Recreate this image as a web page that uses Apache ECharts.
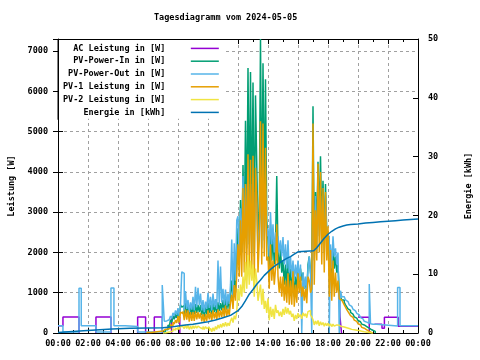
<!DOCTYPE html>
<html><head><meta charset="utf-8">
<script src="https://cdn.jsdelivr.net/npm/echarts@6/dist/echarts.min.js"></script>
<style>html,body{margin:0;padding:0;background:#fff}#c{width:480px;height:360px}</style>
</head><body><div id="c"></div>
<script>
const titleText = 'Tagesdiagramm vom 2024-05-05';
const seriesNames = ['AC Leistung in [W]', 'PV-Power-In in [W]', 'PV-Power-Out in [W]', 'PV-1 Leistung in [W]', 'PV-2 Leistung in [W]', 'Energie in [kWh]'];
const seriesColors = ['#9400d3', '#009e73', '#56b4e9', '#e69f00', '#f0e442', '#0072b2'];
const xTickLabels = ['00:00','02:00','04:00','06:00','08:00','10:00','12:00','14:00','16:00','18:00','20:00','22:00','00:00'];
const leftAxisName = 'Leistung [W]';
const rightAxisName = 'Energie [kWh]';

// AC power (sparse step changes), hours; null = AC at zero hidden on the axis
const acTimes  = [0, 0.33, 1.40, 1.401, 2.53, 2.53, 3.53, 3.531, 5.31, 5.31, 5.84, 5.841, 6.42, 6.42, 6.95, 6.951, 7.57, 7.57, 8.12, 8.121, 18.73, 18.8, 18.9, 18.901, 20.02, 20.75, 20.751, 21.1, 21.6, 21.76, 22.68, 24];
const acValues = [180, 400, 0, null, 0, 400, 0, null, 0, 400, 0, null, 0, 400, 0, null, 0, 400, 0, null, 1070, 400, 0, null, 390, 0, null, 220, 115, 390, 170, 170];

// PV-Power-Out night / late step changes
const pvOutNightTimes  = [0, 0.33, 1.40, 1.55, 2.53, 3.53, 3.73, 4.47, 5.31, 6.95];
const pvOutNightValues = [180, 25, 1110, 180, 25, 1115, 180, 160, 25, 1190];
const pvOutLateTimes  = [21.24, 22.64, 22.8, 24];
const pvOutLateValues = [175, 1130, 180, 180];

// day values every 5 minutes from 07:00 to 21:00
const pvOutDay = [
 1190, 290, 300, 290, 330, 300, 420, 360, 500, 420, 560, 450,
 620, 420, 700, 1520, 1480, 560, 1040, 600, 820, 520, 760, 580,
 900, 560, 1150, 640, 1120, 700, 980, 560, 820, 520, 780, 600,
 1000, 620, 900, 560, 980, 640, 840, 600, 1800, 700, 1650, 760,
 1100, 700, 1080, 680, 980, 720, 1200, 2320, 900, 2230, 1300, 2800,
 2900, 1800, 3100, 2000, 3900, 2200, 3700, 2100, 3600, 2200, 3700, 2000,
 3600, 1900, 3500, 3200, 2000, 2600, 3600, 2100, 3700, 2300, 3600, 2400,
 2600, 1900, 3000, 2200, 2700, 2000, 2500, 1800, 2400, 2000, 2300, 1900,
 2380, 1700, 2200, 1600, 2300, 1500, 1900, 1400, 1800, 1300, 1700, 1400,
 1800, 1300, 1700, 0, 1500, 1100, 1400, 1000, 1600, 1900, 1500, 0,
 3600, 1800, 3400, 2000, 3300, 2400, 3400, 2200, 3000, 2000, 3400, 2400,
 2400, 0, 2200, 1600, 2400, 1900, 2100, 1700, 2000, 0, 1050, 900,
 900, 860, 820, 780, 740, 700, 660, 620, 590, 550, 520, 490,
 450, 410, 380, 350, 320, 290, 270, 250, 240, 1215, 230, 220,
 220
];
const pvInDay = [
 0, 40, 90, 80, 200, 150, 330, 260, 420, 340, 480, 380,
 560, 380, 700, 640, 680, 460, 740, 480, 720, 420, 700, 450,
 700, 460, 720, 500, 700, 520, 690, 440, 650, 400, 640, 460,
 740, 500, 700, 460, 740, 520, 700, 480, 760, 540, 740, 560,
 820, 560, 900, 580, 820, 600, 960, 1300, 800, 1645, 1000, 1800,
 2600, 1900, 3300, 2000, 4170, 2300, 5270, 2600, 6580, 3000, 6480, 2600,
 6220, 2400, 5900, 4200, 2400, 3000, 7300, 2800, 6700, 3200, 6300, 2800,
 2300, 1500, 2700, 1800, 2400, 1700, 2200, 3900, 2000, 1600, 2100, 1500,
 1800, 1200, 1700, 1100, 1900, 1000, 1600, 1000, 1500, 900, 1400, 1000,
 1700, 1200, 1600, 1300, 1500, 1100, 1300, 1000, 1700, 1900, 1500, 1300,
 5630, 2000, 3500, 2600, 4250, 2800, 4390, 2600, 3780, 2400, 3700, 2500,
 2300, 1500, 2100, 1400, 2200, 1600, 1900, 1500, 1700, 1000, 900, 820,
 820, 760, 700, 650, 600, 560, 510, 470, 440, 400, 370, 340,
 310, 280, 250, 220, 200, 180, 160, 140, 120, 100, 80, 60,
 40
];
const pvInLateTimes = [21.15];
const pvInLateValues = [0];

const pv1NightTimes = [5.9, 6.2, 6.6];
const pv1NightValues = [10, 30, 50];
const pv1Day = [
 80, 90, 100, 100, 140, 120, 210, 170, 270, 220, 320, 250,
 420, 260, 520, 480, 540, 320, 580, 330, 560, 280, 520, 300,
 520, 300, 540, 340, 520, 360, 500, 290, 470, 260, 470, 300,
 560, 340, 520, 300, 560, 360, 520, 330, 580, 380, 560, 400,
 620, 400, 680, 420, 600, 440, 760, 950, 600, 1190, 800, 1450,
 2200, 1400, 2800, 1400, 3600, 1500, 3700, 1500, 4440, 1600, 4300, 1400,
 4400, 1300, 4100, 3400, 1500, 2300, 5260, 1700, 5200, 1900, 4600, 1800,
 1900, 1100, 2200, 1300, 1800, 1200, 1600, 2700, 1400, 1000, 1400, 900,
 1400, 800, 1300, 750, 1480, 700, 1300, 700, 1530, 650, 1200, 750,
 1480, 1000, 1400, 900, 1150, 800, 1100, 740, 1400, 1300, 1000, 1100,
 5200, 1200, 3050, 1800, 4200, 2000, 4000, 1700, 3600, 1500, 3500, 1800,
 2650, 900, 2060, 800, 1800, 900, 1500, 1000, 1300, 850, 820, 780,
 760, 700, 640, 580, 530, 480, 430, 390, 350, 320, 290, 260,
 230, 200, 170, 140, 120, 100, 80, 60, 40, 25, 10, 0,
 0
];
const pv2Day = [
 0, 0, 10, 20, 40, 30, 70, 50, 100, 70, 120, 90,
 150, 90, 170, 160, 190, 110, 200, 110, 190, 90, 170, 100,
 180, 110, 180, 120, 170, 130, 170, 100, 160, 90, 160, 110,
 150, 60, 120, 30, 130, 50, 160, 90, 200, 120, 220, 140,
 240, 160, 270, 170, 250, 180, 300, 380, 260, 430, 340, 520,
 1100, 800, 1200, 900, 1400, 1000, 1770, 1100, 1935, 1200, 1800, 1300,
 1700, 900, 1600, 1300, 800, 1000, 1200, 700, 1100, 600, 800, 500,
 860, 320, 650, 400, 600, 350, 700, 500, 560, 420, 530, 400,
 600, 450, 650, 480, 620, 460, 550, 400, 480, 300, 450, 350,
 490, 400, 460, 350, 500, 420, 480, 380, 530, 560, 450, 400,
 330, 200, 300, 220, 310, 180, 280, 200, 260, 170, 250, 180,
 240, 170, 230, 160, 220, 170, 200, 160, 190, 160, 160, 150,
 150, 140, 130, 120, 110, 100, 90, 85, 80, 75, 70, 65,
 60, 50, 45, 40, 30, 25, 20, 15, 10, 5, 0, 0,
 0
];

const energyTimes  = [0, 1.7, 3.6, 4.8, 6.0, 7.0, 7.5, 8.0, 8.5, 9.0, 9.5, 10.0, 10.5, 11.0, 11.5, 12.0, 12.25, 12.5, 12.75, 13.0, 13.25, 13.5, 13.75, 14.0, 14.25, 14.5, 14.75, 15.0, 15.25, 15.5, 15.75, 16.0, 16.1, 17.05, 17.25, 17.5, 17.75, 18.0, 18.25, 18.5, 18.75, 19.0, 19.25, 19.5, 20.0, 20.5, 21.0, 21.5, 22.0, 22.5, 23.0, 23.5, 24.0];
const energyValues = [0.1, 0.4, 0.7, 0.8, 0.85, 0.9, 1.0, 1.2, 1.35, 1.5, 1.7, 1.9, 2.2, 2.6, 3.0, 3.8, 4.5, 5.5, 6.6, 7.4, 8.3, 9.0, 9.8, 10.4, 11.0, 11.5, 11.9, 12.3, 12.7, 13.0, 13.4, 13.8, 13.9, 14.0, 14.5, 15.3, 16.1, 16.8, 17.3, 17.7, 18.0, 18.2, 18.35, 18.45, 18.55, 18.7, 18.8, 18.9, 19.0, 19.1, 19.2, 19.3, 19.4];

const DAY_START = 7, STEPS_PER_HOUR = 12;
function pairs(ts, vs) { return ts.map((t, i) => [t, vs[i] === null ? '-' : vs[i]]); }
function dayPairs(vs) { return vs.map((v, i) => [DAY_START + i / STEPS_PER_HOUR, v]); }

const FONT = 'DejaVu Sans Mono';
const FS = 8.5;
const txt = { fontFamily: FONT, fontSize: FS, color: '#000', fontWeight: 'bold' };
const grid = { color: '#a0a0a0', width: 1, type: [3, 3] };

const chart = echarts.init(document.getElementById('c'), null, { renderer: 'canvas' });

function lineSeries(name, idx, data, extra) {
  return Object.assign({
    name: name, type: 'line', step: 'end', showSymbol: false, symbol: 'none',
    connectNulls: false,
    data: data, lineStyle: { color: seriesColors[idx], width: 1.5 },
    itemStyle: { color: seriesColors[idx] }, animation: false
  }, extra || {});
}

const option = {
  animation: false,
  backgroundColor: '#fff',
  title: { text: titleText, left: 154, top: 13, padding: 0, textStyle: Object.assign({}, txt) },
  grid: { left: 58, right: 62, top: 39, bottom: 27, containLabel: false, outerBoundsMode: 'none' },
  legend: {
    orient: 'vertical', left: 63, top: 42, padding: 0, itemGap: 0, align: 'right',
    icon: 'rect', itemWidth: 28, itemHeight: 1.5,
    formatter: n => n + '    ',
    textStyle: Object.assign({ lineHeight: 12.8 }, txt),
    data: seriesNames
  },
  xAxis: [
    { type: 'value', min: 0, max: 24, interval: 2, position: 'bottom',
      axisLine: { show: true, onZero: false, lineStyle: { color: '#000', width: 1 } },
      axisTick: { show: true, inside: true, length: 5, lineStyle: { color: '#000' } },
      minorTick: { show: true, splitNumber: 2, length: 3, lineStyle: { color: '#000' } },
      axisLabel: Object.assign({ margin: 6, formatter: v => xTickLabels[Math.round(v / 2)] }, txt),
      splitLine: { show: true, showMinLine: false, showMaxLine: false, lineStyle: grid } },
    { type: 'value', min: 0, max: 24, interval: 2, position: 'top',
      axisLine: { show: true, onZero: false, lineStyle: { color: '#000', width: 1 } },
      axisTick: { show: true, inside: true, length: 5, lineStyle: { color: '#000' } },
      minorTick: { show: true, splitNumber: 2, length: 3, lineStyle: { color: '#000' } },
      axisLabel: { show: false }, splitLine: { show: false } }
  ],
  yAxis: [
    { type: 'value', min: 0, max: 7300, interval: 1000, position: 'left',
      name: leftAxisName, nameLocation: 'middle', nameGap: 42, nameRotate: 90,
      nameTextStyle: Object.assign({}, txt),
      axisLine: { show: true, onZero: false, lineStyle: { color: '#000', width: 1 } },
      axisTick: { show: true, inside: true, length: 5, lineStyle: { color: '#000' } },
      axisLabel: Object.assign({ margin: 10, showMaxLabel: false, formatter: v => String(v) }, txt),
      splitLine: { show: true, showMinLine: false, showMaxLine: false, lineStyle: grid } },
    { type: 'value', min: 0, max: 50, interval: 10, position: 'right',
      name: rightAxisName, nameLocation: 'middle', nameGap: 46, nameRotate: 90,
      nameTextStyle: Object.assign({}, txt),
      axisLine: { show: true, onZero: false, lineStyle: { color: '#000', width: 1 } },
      axisTick: { show: true, inside: true, length: 5, lineStyle: { color: '#000' } },
      axisLabel: Object.assign({ margin: 10, formatter: v => String(v) }, txt),
      splitLine: { show: false } },
    { type: 'value', min: 0, max: 7300, interval: 1000, position: 'right',
      axisLine: { show: false }, axisLabel: { show: false }, splitLine: { show: false },
      axisTick: { show: true, inside: true, length: 5, lineStyle: { color: '#000' } } }
  ],
  series: [
    lineSeries(seriesNames[0], 0, pairs(acTimes, acValues)),
    lineSeries(seriesNames[1], 1, dayPairs(pvInDay).concat(pairs(pvInLateTimes, pvInLateValues))),
    lineSeries(seriesNames[2], 2, pairs(pvOutNightTimes, pvOutNightValues).concat(dayPairs(pvOutDay), pairs(pvOutLateTimes, pvOutLateValues))),
    lineSeries(seriesNames[3], 3, pairs(pv1NightTimes, pv1NightValues).concat(dayPairs(pv1Day))),
    lineSeries(seriesNames[4], 4, dayPairs(pv2Day)),
    lineSeries(seriesNames[5], 5, pairs(energyTimes, energyValues), { step: false, yAxisIndex: 1, lineStyle: { color: seriesColors[5], width: 1.5 } })
  ]
};
chart.setOption(option);

// opaque key background (as in the original plot), placed from the grid's own geometry
const gridRect = chart.getModel().getComponent('grid').coordinateSystem.getRect();
const keyBottom = chart.convertToPixel({ yAxisIndex: 0 }, 5320);
const keyRight = chart.convertToPixel({ xAxisIndex: 0 }, 11.1);
chart.setOption({
  graphic: [
    { type: 'rect', z: 1, shape: { x: gridRect.x + 1, y: gridRect.y + 1, width: keyRight - gridRect.x - 1, height: keyBottom - gridRect.y - 1 }, style: { fill: '#fff' } },
    { type: 'line', z: 5, shape: { x1: gridRect.x, y1: gridRect.y, x2: gridRect.x, y2: keyBottom + 1 }, style: { stroke: '#000', lineWidth: 1 } }
  ]
});
</script></body></html>
